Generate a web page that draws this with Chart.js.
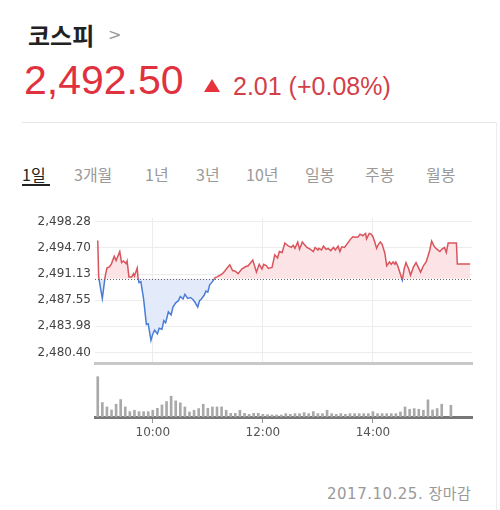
<!DOCTYPE html>
<html lang="ko">
<head>
<meta charset="utf-8">
<script src="https://cdn.jsdelivr.net/npm/chart.js@4.4.1/dist/chart.umd.min.js"></script>
<style>
  html, body { margin:0; padding:0; background:#fff; }
  body { width:500px; height:510px; position:relative; overflow:hidden; font-family:"Noto Sans CJK KR","Noto Sans",sans-serif; }
  .abs { position:absolute; white-space:nowrap; line-height:1; }
  #title { left:28px; top:23px; font-size:24px; font-weight:700; color:#222; }
  #chev { left:108px; top:27px; font-size:16px; color:#999; font-family:"DejaVu Sans",sans-serif; }
  #price { left:24px; top:60px; font-size:41px; color:#e0323e; font-family:"Liberation Sans",Arial,sans-serif; }
  #tri { left:204px; top:79px; width:0; height:0; border-left:8px solid transparent; border-right:8px solid transparent; border-bottom:13px solid #e8323c; }
  #chg { left:233px; top:74px; font-size:25px; color:#d23f49; font-family:"Liberation Sans",Arial,sans-serif; }
  #sep { left:22px; top:122px; width:475px; height:1px; background:#e6e6e6; }
  #vsep { left:496px; top:122px; width:1px; height:388px; background:#ececec; }
  .tab { top:166px; font-size:16px; color:#9a9a9a; }
  .tab.on { color:#222; }
  #uline { left:22px; top:184px; width:28px; height:2px; background:#222; }
  #foot { left:327px; top:487px; font-size:15px; color:#999; letter-spacing:0.5px; font-family:"DejaVu Sans","Noto Sans CJK KR",sans-serif; }
  #mainWrap { position:absolute; left:0; top:200px; width:500px; height:175px; }
  #volWrap { position:absolute; left:0; top:372px; width:500px; height:78px; }
</style>
</head>
<body>
<div class="abs" id="title">코스피</div>
<div class="abs" id="chev">&gt;</div>
<div class="abs" id="price">2,492.50</div>
<div class="abs" id="tri"></div>
<div class="abs" id="chg">2.01 (+0.08%)</div>
<div class="abs" id="sep"></div>
<div class="abs" id="vsep"></div>
<div class="abs tab on" style="left:22px">1일</div>
<div class="abs" id="uline"></div>
<div class="abs tab" style="left:74px">3개월</div>
<div class="abs tab" style="left:145px">1년</div>
<div class="abs tab" style="left:196px">3년</div>
<div class="abs tab" style="left:246px">10년</div>
<div class="abs tab" style="left:305px">일봉</div>
<div class="abs tab" style="left:365px">주봉</div>
<div class="abs tab" style="left:426px">월봉</div>
<div class="abs" id="foot">2017.10.25. 장마감</div>
<div id="mainWrap"><canvas id="main" width="500" height="175"></canvas></div>
<div id="volWrap"><canvas id="vol" width="500" height="78"></canvas></div>
<script>
// ---- data ----
const prevClose = 2490.49;
const yTickValues = [2498.28, 2494.70, 2491.13, 2487.55, 2483.98, 2480.40];
const yTickLabels = ['2,498.28', '2,494.70', '2,491.13', '2,487.55', '2,483.98', '2,480.40'];
const timeTicks = ['10:00', '12:00', '14:00'];

const priceTimes = [
 '09:00','09:01','09:03','09:05','09:08','09:10','09:13','09:15','09:18','09:20','09:24','09:26','09:28','09:31','09:32','09:34','09:37','09:39','09:40','09:43','09:44','09:45','09:47','09:50','09:53','09:55','09:58',
 '10:00','10:02','10:05','10:07','10:10','10:12','10:14','10:17','10:20','10:22','10:25','10:28','10:30','10:33','10:35','10:38','10:41','10:44','10:46','10:49','10:51','10:53','10:56','10:58',
 '11:00','11:02','11:05','11:08','11:10','11:13','11:16','11:19','11:21','11:24','11:27','11:30','11:33','11:37','11:41','11:44','11:49','11:53','11:56','11:59',
 '12:01','12:04','12:06','12:10','12:13','12:16','12:18','12:21','12:24','12:28','12:31','12:33','12:35','12:38','12:40','12:43','12:45','12:48','12:52','12:55','12:57',
 '13:00','13:01','13:04','13:06','13:09','13:11','13:14','13:17','13:19','13:22','13:24','13:26','13:29','13:32','13:35','13:38','13:41','13:44','13:46','13:49','13:52','13:53','13:56','13:58',
 '14:00','14:02','14:04','14:06','14:08','14:10','14:13','14:15','14:18','14:20','14:22','14:24','14:25','14:27','14:29','14:32','14:34','14:36','14:39','14:41','14:44','14:47','14:50','14:52','14:55','14:58',
 '15:00','15:02','15:04','15:07','15:10','15:13','15:15','15:18','15:20','15:22','15:31','15:32','15:46'
];
const priceValues = [
 2495.72,2490.74,2489.22,2487.79,2490.74,2491.95,2492.13,2492.56,2493.56,2492.99,2494.21,2492.69,2492.91,2492.56,2492.91,2490.74,2490.74,2491.17,2490.87,2491.95,2490.52,2489.96,2490.09,2487.71,2484.24,2484.33,2482.06,
 2482.94,2483.46,2482.94,2483.72,2483.59,2484.76,2484.46,2485.97,2485.54,2486.62,2487.19,2487.49,2488.05,2487.71,2488.36,2487.79,2487.92,2487.62,2487.27,2486.62,2487.49,2487.71,2488.23,2488.79,
 2488.66,2489.66,2490.09,2490.65,2490.74,2490.96,2491.17,2491.61,2491.95,2492.39,2491.61,2491.52,2491.17,2491.82,2492.13,2492.26,2493.04,2491.39,2492.47,2491.82,
 2492.47,2492.26,2491.91,2492.04,2493.77,2493.34,2494.21,2494.08,2495.38,2494.94,2494.77,2495.07,2494.64,2495.51,2494.51,2495.51,2495.20,2494.77,2494.51,2494.21,2494.77,
 2494.42,2494.64,2494.42,2494.94,2494.51,2494.64,2494.34,2494.77,2494.42,2494.94,2494.21,2494.86,2494.77,2495.29,2495.81,2496.24,2496.16,2496.24,2496.59,2496.37,2496.68,2495.94,2496.68,2496.59,
 2496.24,2495.51,2494.64,2495.20,2495.51,2495.20,2493.99,2492.26,2492.78,2492.47,2492.78,2492.47,2492.78,2492.26,2491.48,2490.31,2491.82,2492.69,2491.82,2490.96,2492.04,2492.69,2491.91,2491.39,2492.26,2492.78,
 2493.56,2494.42,2495.64,2494.86,2494.51,2494.21,2494.51,2494.77,2494.08,2495.38,2495.38,2492.50,2492.50
];

const volTimes = [
 '09:00','09:05','09:10','09:15','09:20','09:25','09:30','09:35','09:40','09:45','09:50','09:55',
 '10:00','10:05','10:10','10:15','10:20','10:25','10:30','10:35','10:40','10:45','10:50','10:55',
 '11:00','11:05','11:10','11:15','11:20','11:25','11:30','11:35','11:40','11:45','11:50','11:55',
 '12:00','12:05','12:10','12:15','12:20','12:25','12:30','12:35','12:40','12:45','12:50','12:55',
 '13:00','13:05','13:10','13:15','13:20','13:25','13:30','13:35','13:40','13:45','13:50','13:55',
 '14:00','14:05','14:10','14:15','14:20','14:25','14:30','14:35','14:40','14:45','14:50','14:55',
 '15:00','15:05','15:10','15:15','15:20','15:25'
];
const volValues = [
 120,43,30,21,38,52,30,16,20,16,16,16,
 20,26,36,46,62,48,42,30,15,20,25,38,
 26,30,30,30,20,11,11,20,11,8,11,11,
 8,7,6,6,6,10,8,10,10,13,10,16,
 10,10,20,10,8,10,8,10,10,10,10,10,
 16,10,10,10,10,10,15,30,23,25,23,20,
 51,21,25,38,null,35
];

// ---- helpers ----
const OPEN_HOUR = 9;
function toMin(s) { const [h, m] = s.split(':').map(Number); return (h - OPEN_HOUR) * 60 + m; }
const X_MIN = -3, X_MAX = 408;
const RED = '#d9545c', BLUE = '#4a7dd6';
const PINK = '#fce3e6', LIGHTBLUE = '#e3ebfa';
const TICK_FONT = { family: '"DejaVu Sans", Verdana, sans-serif', size: 12 };

function splitColor(context) {
  const chart = context.chart;
  const area = chart.chartArea;
  if (!area) return RED;
  const y = chart.scales.y.getPixelForValue(prevClose);
  const stop = Math.min(1, Math.max(0, (y - area.top) / (area.bottom - area.top)));
  const g = chart.ctx.createLinearGradient(0, area.top, 0, area.bottom);
  g.addColorStop(0, RED); g.addColorStop(stop, RED);
  g.addColorStop(stop, BLUE); g.addColorStop(1, BLUE);
  return g;
}

const baselinePlugin = {
  id: 'baseline',
  afterDatasetsDraw(chart) {
    const { ctx, chartArea, scales } = chart;
    const y = Math.round(scales.y.getPixelForValue(prevClose)) + 0.5;
    ctx.save();
    ctx.strokeStyle = '#666';
    ctx.lineWidth = 1;
    ctx.setLineDash([1, 2]);
    ctx.beginPath();
    ctx.moveTo(chartArea.left, y);
    ctx.lineTo(chartArea.right, y);
    ctx.stroke();
    ctx.restore();
  }
};

new Chart(document.getElementById('main'), {
  type: 'line',
  data: {
    datasets: [{
      data: priceTimes.map((t, i) => ({ x: toMin(t), y: priceValues[i] })),
      borderColor: splitColor,
      borderWidth: 1.5,
      pointRadius: 0,
      tension: 0,
      fill: { target: { value: prevClose }, above: PINK, below: LIGHTBLUE }
    }]
  },
  options: {
    responsive: false,
    animation: false,
    layout: { padding: { top: 18, right: 28, bottom: 3, left: 0 } },
    plugins: { legend: { display: false }, tooltip: { enabled: false } },
    scales: {
      x: {
        type: 'linear', min: X_MIN, max: X_MAX,
        afterBuildTicks: s => { s.ticks = timeTicks.map(t => ({ value: toMin(t) })); },
        ticks: { display: false },
        grid: { color: '#ececec', drawTicks: false },
        border: { display: true, color: '#c8c8c8', width: 3 },
        afterFit: s => { s.height = 0; }
      },
      y: {
        min: 2478.85, max: 2498.80,
        afterBuildTicks: s => { s.ticks = yTickValues.map(v => ({ value: v })); },
        ticks: { callback: (v, i) => yTickLabels[i], color: '#444', font: TICK_FONT, padding: 4 },
        grid: { color: '#ececec', drawTicks: false },
        border: { display: false },
        afterFit: s => { s.width = 95; }
      }
    }
  },
  plugins: [baselinePlugin]
});

new Chart(document.getElementById('vol'), {
  type: 'bar',
  data: {
    datasets: [{
      data: volTimes.map((t, i) => ({ x: toMin(t), y: volValues[i] })),
      backgroundColor: '#a9a9a9',
      barThickness: 2
    }]
  },
  options: {
    responsive: false,
    animation: false,
    layout: { padding: { top: 2, right: 28, bottom: 0, left: 0 } },
    plugins: { legend: { display: false }, tooltip: { enabled: false } },
    scales: {
      x: {
        type: 'linear', min: X_MIN, max: X_MAX, offset: false,
        afterBuildTicks: s => { s.ticks = timeTicks.map(t => ({ value: toMin(t) })); },
        ticks: { callback: (v, i) => timeTicks[i], color: '#555', font: TICK_FONT, padding: 3, maxRotation: 0, autoSkip: false },
        grid: { offset: false, drawOnChartArea: false, drawTicks: true, tickLength: 6, color: '#999' },
        border: { display: true, color: '#777', width: 3 },
        afterFit: s => { s.height = 33; }
      },
      y: {
        min: 0, max: 128,
        ticks: { display: false },
        grid: { display: false },
        border: { display: false },
        afterFit: s => { s.width = 95; }
      }
    }
  }
});
</script>
</body>
</html>
